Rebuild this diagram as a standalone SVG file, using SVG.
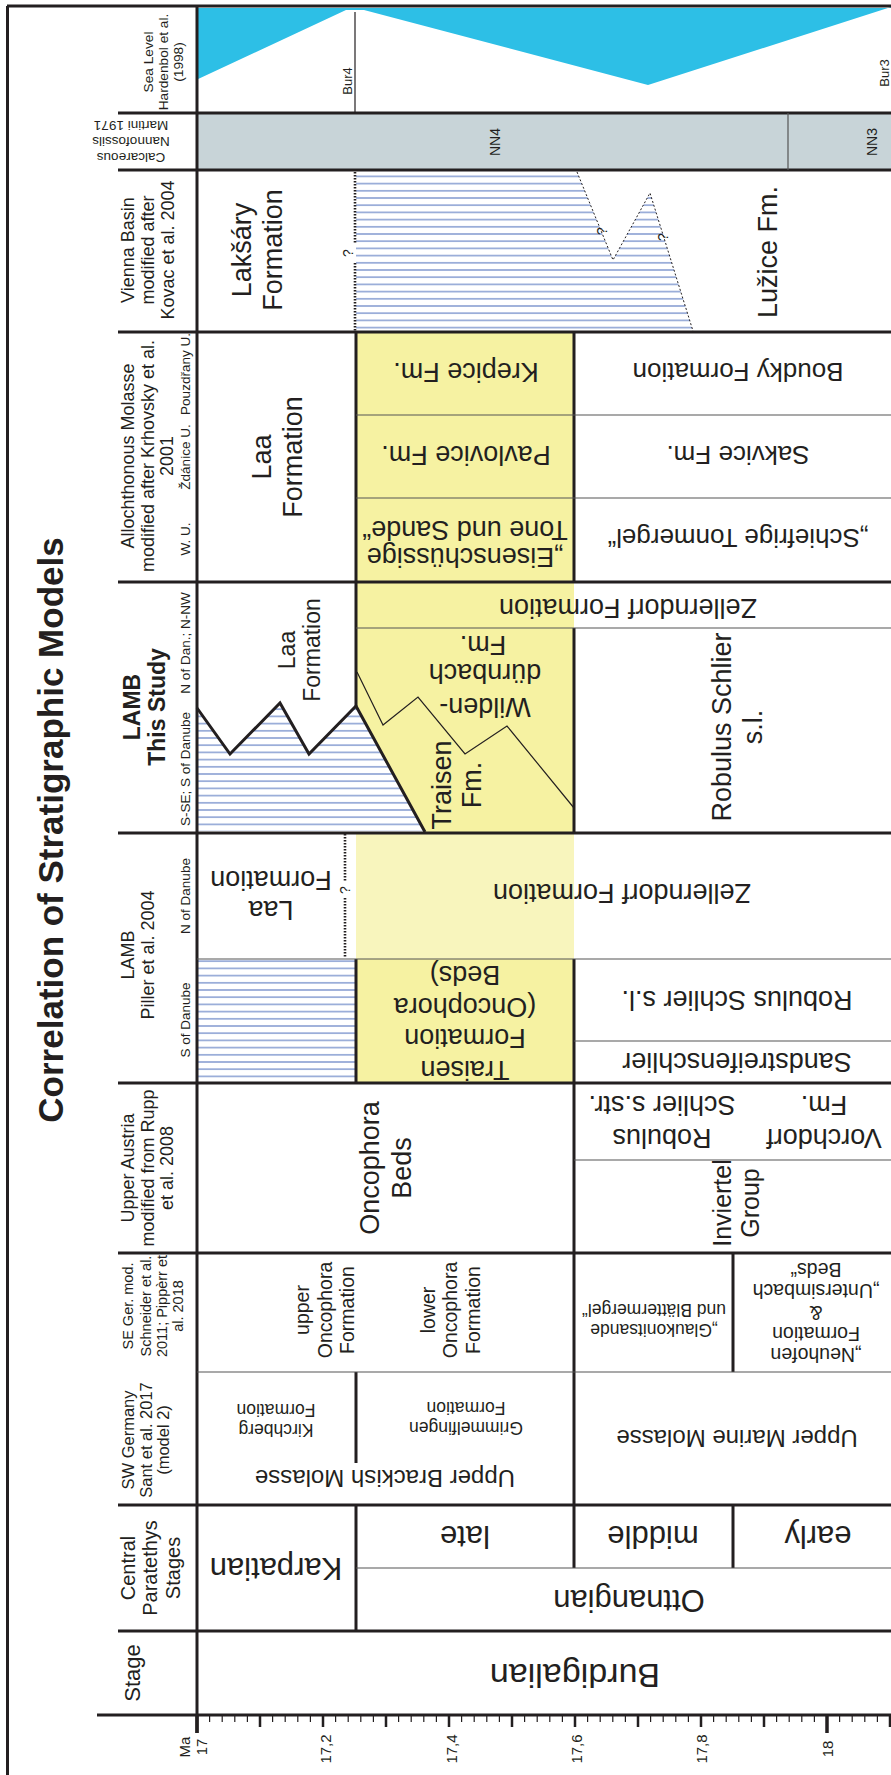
<svg xmlns="http://www.w3.org/2000/svg" width="891" height="1775" viewBox="0 0 891 1775">
<defs>
<style>
text{font-family:'Liberation Sans',Arial,sans-serif;fill:#231f20;text-anchor:middle;dominant-baseline:central}
.b{font-weight:bold}
.k{stroke:#231f20;stroke-width:3;fill:none}
.n{stroke:#555;stroke-width:1.2;fill:none}
.dots{stroke:#231f20;stroke-width:2.6;stroke-dasharray:1.4 1.6;fill:none}
.dash{stroke:#231f20;stroke-width:1;stroke-dasharray:2 2;fill:none}
.y{fill:#f6f2a2}
.yl{fill:#f8f5bd}
.h13{font-size:13.7px}
.h18{font-size:18px}
.c27{font-size:27px}
</style>
<pattern id="hatch" patternUnits="userSpaceOnUse" x="0" y="0" width="8" height="7.2">
<rect width="8" height="7.2" fill="#fff"/>
<line x1="0" y1="3.6" x2="8" y2="3.6" stroke="#8ea4d4" stroke-width="1.6"/>
</pattern>
</defs>
<rect width="891" height="1775" fill="#fff"/>

<g id="fills">
<polygon points="196,8 196,80 346,10 364,10 648,85 891,7 891,8 196,8" fill="#2dbfe6"/>
<rect x="197" y="113" width="694" height="57" fill="#c8d4d8"/>
<polygon points="356,172 577,172 613,260 650,193 693,331 356,331" fill="url(#hatch)"/>
<rect x="356" y="332" width="218" height="250" class="y"/>
<polygon points="356,582 574,582 574,833 425,833 356,706" class="y"/>
<polygon points="198,708 230,754 280,703 309,754 356,706 425,831 198,831" fill="url(#hatch)"/>
<rect x="356" y="833" width="218" height="126" class="yl"/>
<rect x="356" y="959" width="218" height="124" class="y"/>
<rect x="198" y="960" width="158" height="122" fill="url(#hatch)"/>
</g>

<g id="grid">
<line x1="7" y1="6" x2="891" y2="6" class="k"/>
<line x1="7.5" y1="6" x2="7.5" y2="1775" class="k"/>
<line x1="197" y1="6" x2="197" y2="1733" class="k"/>
<path class="k" d="M118,113H891M118,170H891M118,332H891M118,582H891M118,833H891M118,1083H891M118,1253H891M118,1505H891M118,1631H891M97,1715H891"/>
<path class="k" d="M356,332V582M356,582V706M356,959V1083M356,1372V1463M356,1505V1631M574,332V582M574,628V833M574,959V1568M733,1253V1372M733,1505V1568"/>
<path class="n" d="M788,113V170M356,415H891M356,498H891M356,628H891M197,959H891M574,1041H891M574,1160H891M197,1372H891M356,1568H891"/>
<line x1="355" y1="12" x2="355" y2="113" stroke="#231f20" stroke-width="1.2"/>
<polyline points="197,708 230,754 280,703 309,754 356,706 425,832" class="k"/>
<polyline points="357,672 383,725 418,697 465,754 507,726 574,808" stroke="#231f20" stroke-width="1.2" fill="none"/>
<polyline points="577,172 613,260 650,193 693,331" class="dash"/>
<path class="dots" d="M355,172V244M355,263V331M345,834V882M345,898V958"/>
</g>

<g id="axis">
<path stroke="#231f20" stroke-width="1.2" d="M209.6,1716v6M222.2,1716v6M234.8,1716v6M247.4,1716v6M272.6,1716v6M285.2,1716v6M297.8,1716v6M310.4,1716v6M335.6,1716v6M348.2,1716v6M360.8,1716v6M373.4,1716v6M398.6,1716v6M411.2,1716v6M423.8,1716v6M436.4,1716v6M461.6,1716v6M474.2,1716v6M486.8,1716v6M499.4,1716v6M524.6,1716v6M537.2,1716v6M549.8,1716v6M562.4,1716v6M587.6,1716v6M600.2,1716v6M612.8,1716v6M625.4,1716v6M650.6,1716v6M663.2,1716v6M675.8,1716v6M688.4,1716v6M713.6,1716v6M726.2,1716v6M738.8,1716v6M751.4,1716v6M776.6,1716v6M789.2,1716v6M801.8,1716v6M814.4,1716v6M839.6,1716v6M852.2,1716v6M864.8,1716v6M877.4,1716v6"/>
<path stroke="#231f20" stroke-width="2.5" d="M260,1716v11M323,1716v11M386,1716v11M449,1716v11M512,1716v11M575,1716v11M638,1716v11M701,1716v11M764,1716v11M890,1716v11"/>
<path stroke="#231f20" stroke-width="3.5" d="M197,1716v17M827,1716v17"/>
<g font-size="15">
<text transform="translate(184 1747) rotate(-90)">Ma</text>
<text transform="translate(201 1747) rotate(-90)">17</text>
<text transform="translate(325 1749) rotate(-90)">17,2</text>
<text transform="translate(451 1749) rotate(-90)">17,4</text>
<text transform="translate(576 1749) rotate(-90)">17,6</text>
<text transform="translate(701 1749) rotate(-90)">17,8</text>
<text transform="translate(827 1749) rotate(-90)">18</text>
</g>
</g>

<g id="title"><text class="b" font-size="35" transform="translate(50 830) rotate(-90)">Correlation of Stratigraphic Models</text></g>

<g id="headers">
<g id="h-sealevel" class="h13">
<text transform="translate(148 62) rotate(-90)">Sea Level</text>
<text transform="translate(163 62) rotate(-90)">Hardenbol et al.</text>
<text transform="translate(178 62) rotate(-90)">(1998)</text>
</g>
<g id="h-nanno" font-size="13.5">
<text transform="translate(131 157) rotate(180)">Calcareous</text>
<text transform="translate(131 141) rotate(180)">Nannofossils</text>
<text transform="translate(131 125) rotate(180)">Martini 1971</text>
</g>
<g id="h-vienna" class="h18">
<text transform="translate(128 250) rotate(-90)">Vienna Basin</text>
<text transform="translate(148 250) rotate(-90)">modified after</text>
<text transform="translate(168 250) rotate(-90)">Kovac et al. 2004</text>
</g>
<g id="h-alloch">
<text class="h18" transform="translate(128 456) rotate(-90)">Allochthonous Molasse</text>
<text class="h18" transform="translate(148 456) rotate(-90)">modified after Krhovsky et al.</text>
<text class="h18" transform="translate(167 456) rotate(-90)">2001</text>
<text font-size="13.5" transform="translate(185 374) rotate(-90)">Pouzdřany U.</text>
<text font-size="13.5" transform="translate(185 457) rotate(-90)">Ždánice U.</text>
<text font-size="13.5" transform="translate(185 539) rotate(-90)">W. U.</text>
</g>
<g id="h-lamb-this">
<text class="b" font-size="23" transform="translate(132 707) rotate(-90)">LAMB</text>
<text class="b" font-size="23" transform="translate(157 707) rotate(-90)">This Study</text>
<text font-size="13.5" transform="translate(185 643) rotate(-90)">N of Dan.; N-NW</text>
<text font-size="13.5" transform="translate(185 769) rotate(-90)">S-SE; S of Danube</text>
</g>
<g id="h-lamb-piller">
<text class="h18" transform="translate(128 955) rotate(-90)">LAMB</text>
<text class="h18" transform="translate(148 955) rotate(-90)">Piller et al. 2004</text>
<text font-size="13.5" transform="translate(185 896) rotate(-90)">N of Danube</text>
<text font-size="13.5" transform="translate(185 1020) rotate(-90)">S of Danube</text>
</g>
<g id="h-upper-austria" class="h18">
<text transform="translate(128 1168) rotate(-90)">Upper Austria</text>
<text transform="translate(148 1168) rotate(-90)">modified from Rupp</text>
<text transform="translate(167 1168) rotate(-90)">et al. 2008</text>
</g>
<g id="h-se-ger" font-size="14.5">
<text transform="translate(128 1306) rotate(-90)">SE Ger. mod.</text>
<text transform="translate(146 1306) rotate(-90)">Schneider et al.</text>
<text transform="translate(162 1306) rotate(-90)">2011; Pippèrr et</text>
<text transform="translate(178 1306) rotate(-90)">al. 2018</text>
</g>
<g id="h-sw-ger" font-size="16.5">
<text transform="translate(128 1440) rotate(-90)">SW Germany</text>
<text transform="translate(146 1440) rotate(-90)">Sant et al. 2017</text>
<text transform="translate(163 1440) rotate(-90)">(model 2)</text>
</g>
<g id="h-central" font-size="20">
<text transform="translate(128 1568) rotate(-90)">Central</text>
<text transform="translate(150 1568) rotate(-90)">Paratethys</text>
<text transform="translate(173 1568) rotate(-90)">Stages</text>
</g>
<g id="h-stage"><text font-size="22" transform="translate(132 1673) rotate(-90)">Stage</text></g>
</g>

<g id="sealevel" font-size="13">
<text transform="translate(347 81) rotate(-90)">Bur4</text>
<text transform="translate(884 73) rotate(-90)">Bur3</text>
</g>
<g id="nanno" font-size="14">
<text transform="translate(495 142) rotate(-90)">NN4</text>
<text transform="translate(872 142) rotate(-90)">NN3</text>
</g>

<g id="vienna" class="c27">
<text transform="translate(242 250) rotate(-90)">Lakšáry</text>
<text transform="translate(273 250) rotate(-90)">Formation</text>
<text transform="translate(768 252) rotate(-90)">Lužice Fm.</text>
<text font-size="14" transform="translate(348 253) rotate(-90)">?</text>
<text font-size="14" transform="translate(602 231) rotate(-90)">?</text>
<text font-size="14" transform="translate(663 237) rotate(-90)">?</text>
</g>

<g id="alloch" class="c27">
<text transform="translate(262 457) rotate(-90)">Laa</text>
<text transform="translate(293 457) rotate(-90)">Formation</text>
<text transform="translate(466 372) rotate(180)">Krepice Fm.</text>
<text transform="translate(466 455) rotate(180)">Pavlovice Fm.</text>
<text transform="translate(465 557) rotate(180)">„Eisenschüssige</text>
<text transform="translate(465 530) rotate(180)">Tone und Sande“</text>
<text font-size="26" transform="translate(738 372) rotate(180)">Boudky Formation</text>
<text font-size="26" transform="translate(738 455) rotate(180)">Sakvice Fm.</text>
<text font-size="26" transform="translate(738 538) rotate(180)">„Schiefrige Tonmergel“</text>
</g>

<g id="lamb-this" class="c27">
<text font-size="23" transform="translate(287 650) rotate(-90)">Laa</text>
<text font-size="23" transform="translate(312 650) rotate(-90)">Formation</text>
<text transform="translate(628 608) rotate(180)">Zellerndorf Formation</text>
<text transform="translate(485 707) rotate(180)">Wilden-</text>
<text transform="translate(485 673) rotate(180)">dürnbach</text>
<text transform="translate(483 645) rotate(180)">Fm.</text>
<text transform="translate(442 785) rotate(-90)">Traisen</text>
<text transform="translate(472 785) rotate(-90)">Fm.</text>
<text transform="translate(722 727) rotate(-90)">Robulus Schlier</text>
<text transform="translate(753 727) rotate(-90)">s.l.</text>
</g>

<g id="lamb-piller" class="c27">
<text transform="translate(271 910) rotate(180)">Laa</text>
<text transform="translate(271 880) rotate(180)">Formation</text>
<text font-size="14" transform="translate(345 890) rotate(-90)">?</text>
<text transform="translate(622 893) rotate(180)">Zellerndorf Formation</text>
<text transform="translate(465 1070) rotate(180)">Traisen</text>
<text transform="translate(465 1038) rotate(180)">Formation</text>
<text transform="translate(465 1007) rotate(180)">(Oncophora</text>
<text transform="translate(465 975) rotate(180)">Beds)</text>
<text transform="translate(737 1000) rotate(180)">Robulus Schlier s.l.</text>
<text transform="translate(737 1062) rotate(180)">Sandstreifenschlier</text>
</g>

<g id="upper-austria" class="c27">
<text transform="translate(370 1168) rotate(-90)">Oncophora</text>
<text transform="translate(402 1168) rotate(-90)">Beds</text>
<text transform="translate(662 1138) rotate(180)">Robulus</text>
<text transform="translate(662 1105) rotate(180)">Schlier s.str.</text>
<text transform="translate(824 1138) rotate(180)">Vorchdorf</text>
<text transform="translate(824 1105) rotate(180)">Fm.</text>
<text font-size="25" transform="translate(722 1203) rotate(-90)">Inviertel</text>
<text font-size="25" transform="translate(750 1203) rotate(-90)">Group</text>
</g>

<g id="se-ger" font-size="19.5">
<text transform="translate(302 1310) rotate(-90)">upper</text>
<text transform="translate(325 1310) rotate(-90)">Oncophora</text>
<text transform="translate(347 1310) rotate(-90)">Formation</text>
<text transform="translate(428 1310) rotate(-90)">lower</text>
<text transform="translate(450 1310) rotate(-90)">Oncophora</text>
<text transform="translate(473 1310) rotate(-90)">Formation</text>
<text font-size="17.5" transform="translate(654 1330) rotate(180)">„Glaukonitsande</text>
<text font-size="17.5" transform="translate(654 1310) rotate(180)">und Blättermergel“</text>
<text transform="translate(816 1355) rotate(180)">„Neuhofen</text>
<text transform="translate(816 1334) rotate(180)">Formation</text>
<text transform="translate(816 1313) rotate(180)">&amp;</text>
<text transform="translate(816 1291) rotate(180)">„Untersimbach</text>
<text transform="translate(816 1270) rotate(180)">Beds“</text>
</g>

<g id="sw-ger">
<text font-size="17.5" transform="translate(276 1430) rotate(180)">Kirchberg</text>
<text font-size="17.5" transform="translate(276 1410) rotate(180)">Formation</text>
<text font-size="17.5" transform="translate(466 1428) rotate(180)">Grimmelfingen</text>
<text font-size="17.5" transform="translate(466 1408) rotate(180)">Formation</text>
<text font-size="24" transform="translate(385 1478) rotate(180)">Upper Brackish Molasse</text>
<text font-size="24" transform="translate(737 1438) rotate(180)">Upper Marine Molasse</text>
</g>

<g id="central" font-size="31">
<text transform="translate(276 1568) rotate(180)">Karpatian</text>
<text transform="translate(629 1600) rotate(180)">Ottnangian</text>
<text transform="translate(465 1536) rotate(180)">late</text>
<text transform="translate(653 1536) rotate(180)">middle</text>
<text transform="translate(818 1536) rotate(180)">early</text>
</g>

<g id="stage"><text font-size="34" transform="translate(575 1676) rotate(180)">Burdigalian</text></g>
</svg>
